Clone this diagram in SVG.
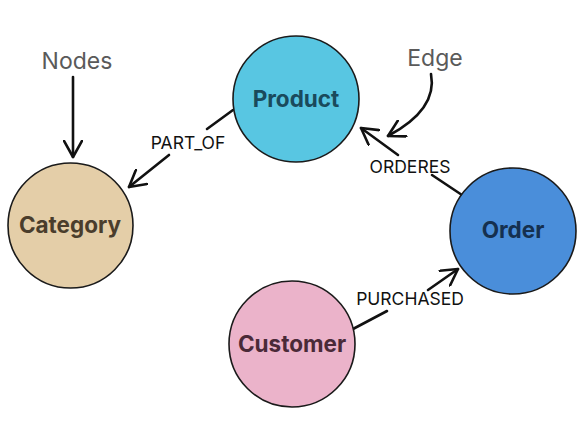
<svg xmlns="http://www.w3.org/2000/svg" width="586" height="426" viewBox="0 0 586 426">
<defs>
<marker id="chevL" viewBox="0 0 20 20" refX="17" refY="10" markerWidth="20" markerHeight="20" markerUnits="userSpaceOnUse" orient="auto">
<path d="M1,1 L17,10 L1,19" fill="none" stroke="#111" stroke-width="2.6" stroke-linecap="round" stroke-linejoin="round"/>
</marker>
</defs>
<style>
.node{stroke:#1a1a1a;stroke-width:1.6}
.nlabel{font-family:Inter,"Liberation Sans",sans-serif;font-weight:700;font-size:22.5px;text-anchor:middle}
.elabel{font-family:Inter,"Liberation Sans",sans-serif;font-size:17.5px;fill:#111;text-anchor:middle}
.note{font-family:Inter,"Liberation Sans",sans-serif;font-size:23px;fill:#5a5a5a;text-anchor:middle}
.edge{fill:none;stroke:#111;stroke-width:2.6;stroke-linecap:round}
</style>
<rect width="586" height="426" fill="#ffffff"/>
<g id="connectors">
<line class="edge" x1="233" y1="110" x2="207" y2="129"/>
<line class="edge" x1="169" y1="155" x2="129" y2="187" marker-end="url(#chevL)"/>
<line class="edge" x1="462" y1="195" x2="432" y2="175"/>
<line class="edge" x1="398" y1="155" x2="361" y2="128" marker-end="url(#chevL)"/>
<line class="edge" x1="353" y1="329" x2="387" y2="311"/>
<line class="edge" x1="428" y1="290" x2="458" y2="269" marker-end="url(#chevL)"/>
<line class="edge" x1="73" y1="77" x2="73" y2="157" marker-end="url(#chevL)"/>
<path class="edge" d="M431,74 C436,100 418,120 388,136" stroke-width="2" marker-end="url(#chevL)"/>
<text class="elabel" x="188" y="149">PART_OF</text>
<text class="elabel" x="410" y="173">ORDERES</text>
<text class="elabel" x="410" y="305">PURCHASED</text>
</g>
<g id="product">
<circle class="node" cx="296" cy="99" r="63" fill="#58C6E2"/>
<text class="nlabel" x="296" y="107" fill="#1a4a5c">Product</text>
</g>
<g id="category">
<circle class="node" cx="70.5" cy="225.5" r="62.5" fill="#E4CEA8"/>
<text class="nlabel" x="70" y="233" fill="#4a3d2c">Category</text>
</g>
<g id="order">
<circle class="node" cx="513" cy="231" r="63" fill="#4A8EDA"/>
<text class="nlabel" x="513" y="238" fill="#15304f">Order</text>
</g>
<g id="customer">
<circle class="node" cx="292" cy="344" r="63" fill="#EBB3CA"/>
<text class="nlabel" x="292" y="352" fill="#4a2a38">Customer</text>
</g>
<g id="annotations">
<text class="note" x="77" y="69">Nodes</text>
<text class="note" x="435" y="66">Edge</text>
</g>
</svg>
